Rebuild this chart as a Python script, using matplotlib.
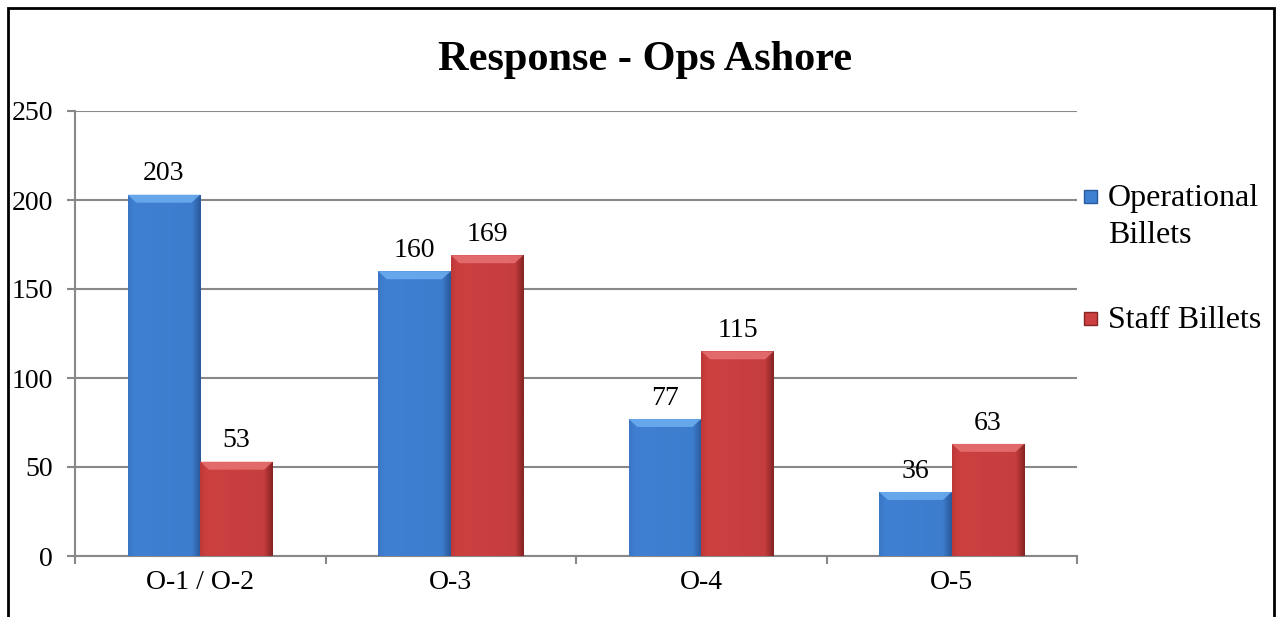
import numpy as np
import matplotlib
matplotlib.use("Agg")
import matplotlib.pyplot as plt
from matplotlib.patches import Rectangle, Polygon
from matplotlib.colors import to_rgb

categories = ["O-1 / O-2", "O-3", "O-4", "O-5"]
operational = [203, 160, 77, 36]
staff = [53, 169, 115, 63]
series_names = ["Operational\nBillets", "Staff Billets"]
yticks = [0, 50, 100, 150, 200, 250]
title = "Response - Ops Ashore"

plt.rcParams['font.family'] = ['Liberation Serif', 'DejaVu Serif']

W, H = 1278, 617
fig = plt.figure(figsize=(W / 100, H / 100), dpi=100)
ax = fig.add_axes([75 / W, 61 / H, (1077 - 75) / W, (556 - 111) / H])

x = np.arange(len(categories))
bw = 0.29
palettes = [
    dict(left="#3b76c4", mid="#3f80d2", right="#2a5a9c", top="#6eaef0", bot="#2d62a8"),
    dict(left="#bd3838", mid="#cc4040", right="#872424", top="#e87272", bot="#a83030"),
]

def grad_img(p, n=64):
    l, m, r = map(np.array, (to_rgb(p["left"]), to_rgb(p["mid"]), to_rgb(p["right"])))
    t = np.linspace(0, 1, n)
    cols = []
    for tt in t:
        if tt < 0.08:
            c = l + (m - l) * (tt / 0.08)
        elif tt < 0.88:
            c = m + (m * 0.92 + r * 0.08 - m) * ((tt - 0.08) / 0.8)
        else:
            c0 = m * 0.92 + r * 0.08
            c = c0 + (r - c0) * ((tt - 0.88) / 0.12)
        cols.append(c)
    return np.array(cols)[None, :, :]

for i, (vals, p) in enumerate(zip([operational, staff], palettes)):
    offs = (i - 0.5) * bw
    bars = ax.bar(x + offs, vals, width=bw, color=p["mid"], edgecolor="none", zorder=3)
    img = grad_img(p)
    for b in bars:
        bx, by, w, h = b.get_x(), b.get_y(), b.get_width(), b.get_height()
        im = ax.imshow(img, extent=[bx, bx + w, by, by + h], aspect="auto", zorder=3.1,
                       interpolation="bilinear")
        im.set_clip_path(b)
        bxw = 0.035
        bh = 4.5
        ax.add_patch(Polygon([(bx, h), (bx + w, h), (bx + w - bxw, h - bh), (bx + bxw, h - bh)],
                             closed=True, facecolor=p["top"], edgecolor="none", zorder=3.2, alpha=0.85))
        ax.annotate(f"{int(h)}", (bx + w / 2, h), xytext=(0, 6), textcoords="offset points",
                    ha="center", va="bottom", fontsize=20, zorder=5)

ax.set_xlim(-0.5, len(categories) - 0.5)
ax.set_ylim(0, 250)
ax.set_yticks(yticks)
ax.set_xticks(x)
ax.set_xticklabels(categories)
ax.set_xticks(np.arange(len(categories) + 1) - 0.5, minor=True)
ax.tick_params(axis="x", which="major", length=0, pad=10, labelsize=20)
ax.tick_params(axis="x", which="minor", length=6, width=1.5, color="#888888", direction="out")
ax.tick_params(axis="y", length=6, width=1.5, color="#888888", pad=10, labelsize=20)
ax.yaxis.grid(True, color="#888888", linewidth=1.5, zorder=0)
ax.set_axisbelow(True)
for s in ["top", "right"]:
    ax.spines[s].set_visible(False)
for s in ["left", "bottom"]:
    ax.spines[s].set_color("#888888")
    ax.spines[s].set_linewidth(1.5)
    ax.spines[s].set_zorder(2)

fig.text(645 / W, 1 - 60 / H, title, ha="center", va="center", fontsize=30.5, fontweight="bold")

# legend
leg_y = [196, 318]
for p, name, yy in zip(palettes, series_names, leg_y):
    fig.patches.append(Rectangle((1084 / W, 1 - (yy + 7) / H), 13 / W, 13 / H,
                                 transform=fig.transFigure, facecolor=p["mid"],
                                 edgecolor=p["right"], linewidth=1))
    fig.text(1108 / W, 1 - (yy - 12) / H, name, ha="left", va="top", fontsize=23, linespacing=1.38)

# outer border
fig.patches.append(Rectangle((7.5 / W, -0.1), (1273.5 - 7.5) / W, 1.1 - 8 / H,
                             transform=fig.transFigure, fill=False, edgecolor="black", linewidth=2))

fig.savefig("out.png", dpi=100)
